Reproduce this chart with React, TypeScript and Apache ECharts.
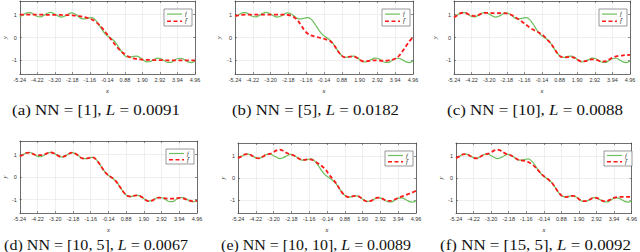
import React, { useEffect, useRef } from "react";
import * as echarts from "echarts";

// sample positions along x
const xs = [-5.24,-5.04,-4.84,-4.64,-4.44,-4.24,-4.04,-3.84,-3.64,-3.44,-3.24,-3.04,-2.84,-2.64,-2.44,-2.24,-2.04,-1.84,-1.64,-1.44,-1.24,-1.04,-0.84,-0.64,-0.44,-0.24,-0.04,0.16,0.36,0.56,0.76,0.96,1.16,1.36,1.56,1.76,1.96,2.16,2.36,2.56,2.76,2.96,3.16,3.36,3.56,3.76,3.96,4.16,4.36,4.56,4.76,4.96];

// true function f (same in every panel)
const fTrue = [0.91,0.99,1.08,1.09,1.02,0.93,0.90,0.97,1.06,1.10,1.04,0.95,0.89,0.93,1.02,1.08,1.04,0.93,0.83,0.82,0.85,0.87,0.77,0.57,0.33,0.14,0.02,-0.09,-0.25,-0.48,-0.70,-0.84,-0.87,-0.83,-0.82,-0.88,-1.00,-1.07,-1.05,-0.97,-0.90,-0.92,-1.01,-1.09,-1.09,-1.00,-0.92,-0.91,-0.98,-1.07,-1.10,-1.03];

// approximations f-hat for each network
const fHatA = [1.0,1.0,1.0,1.0,1.0,1.0,1.0,1.0,0.99,0.99,0.99,0.99,0.99,0.98,0.98,0.97,0.96,0.94,0.92,0.89,0.85,0.79,0.70,0.57,0.41,0.22,0.03,-0.17,-0.36,-0.53,-0.67,-0.78,-0.86,-0.91,-0.94,-0.96,-0.97,-0.98,-0.98,-0.99,-0.99,-0.99,-1.0,-1.0,-1.0,-1.0,-1.0,-1.0,-1.0,-1.0,-1.0,-1.0];
const fHatB = [0.95,0.97,0.99,1.0,1.0,1.0,1.0,1.0,1.0,1.0,1.0,1.0,1.0,1.0,1.0,0.99,0.96,0.88,0.74,0.52,0.30,0.15,0.08,0.04,0.0,-0.04,-0.08,-0.13,-0.26,-0.48,-0.70,-0.84,-0.87,-0.84,-0.84,-0.90,-1.00,-1.05,-1.04,-1.01,-1.00,-1.01,-1.02,-1.02,-1.00,-0.98,-0.92,-0.80,-0.60,-0.38,-0.16,0.02];
const fHatC = [0.88,0.98,1.07,1.09,1.03,0.96,0.94,0.98,1.05,1.08,1.08,1.07,1.07,1.07,1.07,1.06,1.03,0.96,0.87,0.77,0.66,0.55,0.43,0.34,0.26,0.17,0.07,-0.09,-0.25,-0.47,-0.70,-0.84,-0.87,-0.86,-0.86,-0.90,-0.99,-1.05,-1.04,-0.99,-0.96,-0.97,-1.02,-1.06,-1.04,-0.96,-0.88,-0.83,-0.80,-0.78,-0.77,-0.76];
const fHatD = [0.93,0.99,1.07,1.08,1.01,0.97,0.97,1.0,1.06,1.09,1.04,0.95,0.89,0.93,1.02,1.08,1.04,0.93,0.83,0.82,0.85,0.87,0.77,0.57,0.33,0.14,0.02,-0.09,-0.25,-0.48,-0.70,-0.84,-0.87,-0.83,-0.82,-0.88,-1.00,-1.07,-1.05,-0.97,-0.92,-0.93,-0.95,-0.96,-0.96,-0.94,-0.93,-0.95,-1.00,-1.05,-1.08,-1.05];
const fHatE = [0.91,0.99,1.08,1.09,1.02,0.93,0.90,0.97,1.06,1.10,1.16,1.26,1.30,1.24,1.14,1.08,1.03,0.93,0.85,0.83,0.85,0.84,0.76,0.66,0.55,0.40,0.18,-0.02,-0.22,-0.47,-0.70,-0.84,-0.87,-0.83,-0.82,-0.88,-1.00,-1.07,-1.05,-0.97,-0.90,-0.92,-1.00,-1.05,-1.03,-0.97,-0.90,-0.84,-0.78,-0.72,-0.66,-0.58];
const fHatF = [0.91,0.99,1.08,1.09,1.02,0.93,0.90,0.97,1.06,1.10,1.15,1.25,1.30,1.25,1.15,1.08,1.03,0.93,0.84,0.80,0.78,0.73,0.63,0.50,0.33,0.15,0.03,-0.09,-0.25,-0.48,-0.70,-0.84,-0.87,-0.83,-0.82,-0.88,-1.00,-1.06,-1.04,-0.97,-0.90,-0.92,-1.00,-1.06,-1.04,-0.97,-0.90,-0.87,-0.86,-0.86,-0.86,-0.86];

const xTicks = [-5.24,-4.22,-3.20,-2.18,-1.16,-0.14,0.88,1.90,2.92,3.94,4.96];
const yTicks = [-1, 0, 1];

const panelLetters = ["a", "b", "c", "d", "e", "f"];
const nnLabels = ["[1]", "[5]", "[10]", "[10, 5]", "[10, 10]", "[15, 5]"];
const lossValues = ["0.0091", "0.0182", "0.0088", "0.0067", "0.0089", "0.0092"];
const hatSeries = [fHatA, fHatB, fHatC, fHatD, fHatE, fHatF];

// layout (pixels)
const panels = [
  { l: 16, r: 195, t: 1, b: 74, yGap: 8, capX: 96, capY: 110, capW: 168 },
  { l: 235, r: 413, t: 1, b: 74, yGap: 13, capX: 315.5, capY: 110, capW: 167 },
  { l: 454, r: 630, t: 1, b: 74, yGap: 16, capX: 535, capY: 110, capW: 176 },
  { l: 19, r: 197, t: 141, b: 213, yGap: 11, capX: 96, capY: 245, capW: 184 },
  { l: 238, r: 416, t: 143, b: 213, yGap: 12, capX: 316, capY: 245, capW: 190 },
  { l: 456, r: 635, t: 143, b: 213, yGap: 12, capX: 535.5, capY: 245, capW: 191 },
];

const SERIF = '"Liberation Serif", "Times New Roman", Times, serif';
const SANS = '"Liberation Sans", Arial, Helvetica, sans-serif';
const CAP_SIZE = 15;
const GREEN = "#6cbf5c";
const RED = "#ff1a1a";
const FRAME = "#4a4a4a";
const GRIDC = "#e4e4e4";

function measure(text: string, font: string): number {
  const c = document.createElement("canvas").getContext("2d");
  if (!c) return text.length * 7;
  c.font = font;
  return c.measureText(text).width;
}

export default function App() {
  const ref = useRef<HTMLDivElement>(null);
  useEffect(() => {
    if (!ref.current) return;
    const chart = echarts.init(ref.current, undefined, { renderer: "svg" });
    const grids: any[] = [];
    const xAxes: any[] = [];
    const yAxes: any[] = [];
    const series: any[] = [];
    const graphics: any[] = [];
    const frameLine = { show: true, onZero: false, lineStyle: { color: FRAME, width: 0.8 } };
    const tickStyle = { color: FRAME, width: 0.6 };
    panels.forEach((p, i) => {
      grids.push({ left: p.l, top: p.t, width: p.r - p.l, height: p.b - p.t, show: false, containLabel: false });
      xAxes.push({
        gridIndex: i, type: "value", min: -5.24, max: 4.96, position: "bottom",
        axisLine: frameLine,
        axisTick: { show: true, inside: true, length: 2, customValues: xTicks, lineStyle: tickStyle },
        axisLabel: { customValues: xTicks, formatter: (v: number) => v.toFixed(2), fontSize: 5.5, margin: 3, color: "#333", fontFamily: SANS },
        splitLine: { show: true, lineStyle: { color: GRIDC, width: 0.6 } },
        name: "x", nameLocation: "middle", nameGap: 13,
        nameTextStyle: { fontStyle: "italic", fontFamily: SERIF, fontSize: 6.5, color: "#222" },
      });
      xAxes.push({
        gridIndex: i, type: "value", min: -5.24, max: 4.96, position: "top",
        axisLine: frameLine,
        axisTick: { show: true, inside: true, length: 2, customValues: xTicks, lineStyle: tickStyle },
        axisLabel: { show: false }, splitLine: { show: false },
      });
      yAxes.push({
        gridIndex: i, type: "value", min: -1.6, max: 1.6, position: "left",
        axisLine: frameLine,
        axisTick: { show: true, inside: true, length: 2, customValues: yTicks, lineStyle: tickStyle },
        axisLabel: { customValues: yTicks, formatter: (v: number) => String(v), fontSize: 5.5, margin: 3, color: "#333", fontFamily: SANS },
        splitLine: { show: true, lineStyle: { color: GRIDC, width: 0.6 } },
        name: "y", nameLocation: "middle", nameGap: p.yGap, nameRotate: 90,
        nameTextStyle: { fontStyle: "italic", fontFamily: SERIF, fontSize: 6.5, color: "#222" },
      });
      yAxes.push({
        gridIndex: i, type: "value", min: -1.6, max: 1.6, position: "right",
        axisLine: frameLine,
        axisTick: { show: true, inside: true, length: 2, customValues: yTicks, lineStyle: tickStyle },
        axisLabel: { show: false }, splitLine: { show: false },
      });
      series.push({
        type: "line", name: "f", xAxisIndex: i * 2, yAxisIndex: i * 2,
        data: xs.map((x, j) => [x, fTrue[j]]), symbol: "none", smooth: 0.4,
        lineStyle: { color: GREEN, width: 1.2 }, z: 2,
      });
      series.push({
        type: "line", name: "f\u0302", xAxisIndex: i * 2, yAxisIndex: i * 2,
        data: xs.map((x, j) => [x, hatSeries[i][j]]), symbol: "none", smooth: 0.4,
        lineStyle: { color: RED, width: 1.8, type: [4, 2.5] }, z: 3,
      });
      const bw = 28, bh = i < 3 ? 17 : 15;
      const bx = p.r - 3 - bw, by = p.t + 8;
      const y1 = by + bh * 0.3, y2 = by + bh * 0.72;
      const pre = `(${panelLetters[i]}) NN = ${nnLabels[i]}, `;
      const post = ` = ${lossValues[i]}`;
      const natural =
        measure(pre + post, `${CAP_SIZE}px ${SERIF}`) + measure("L", `italic ${CAP_SIZE}px ${SERIF}`);
      const sx = natural > 0 ? p.capW / natural : 1;
      graphics.push(
        { type: "rect", z: 50, shape: { x: bx, y: by, width: bw, height: bh }, style: { fill: "#fff", stroke: "#555", lineWidth: 0.6 } },
        { type: "line", z: 51, shape: { x1: bx + 3, y1, x2: bx + 18, y2: y1 }, style: { stroke: GREEN, lineWidth: 1.2 } },
        { type: "line", z: 51, shape: { x1: bx + 3, y1: y2, x2: bx + 18, y2 }, style: { stroke: RED, lineWidth: 1.6, lineDash: [4, 2.5] } },
        { type: "text", z: 51, x: bx + 21, y: y1, style: { text: "f", font: `italic 6px ${SERIF}`, fill: "#111", verticalAlign: "middle" } },
        { type: "text", z: 51, x: bx + 21, y: y2, style: { text: "f\u0302", font: `italic 6px ${SERIF}`, fill: "#111", verticalAlign: "middle" } },
        {
          type: "text", z: 51, x: p.capX, y: p.capY, scaleX: sx,
          style: {
            text: `${pre}{it|L}${post}`,
            font: `${CAP_SIZE}px ${SERIF}`, fill: "#111", align: "center", verticalAlign: "middle",
            rich: { it: { font: `italic ${CAP_SIZE}px ${SERIF}`, fontStyle: "italic", fontFamily: SERIF, fontSize: CAP_SIZE, fill: "#111" } },
          },
        }
      );
    });
    chart.setOption({
      animation: false,
      backgroundColor: "#fff",
      grid: grids,
      xAxis: xAxes,
      yAxis: yAxes,
      series,
      graphic: graphics,
    });
    return () => chart.dispose();
  }, []);
  return <div ref={ref} style={{ position: "fixed", left: 0, top: 0, width: 640, height: 252, background: "#fff" }} />;
}
